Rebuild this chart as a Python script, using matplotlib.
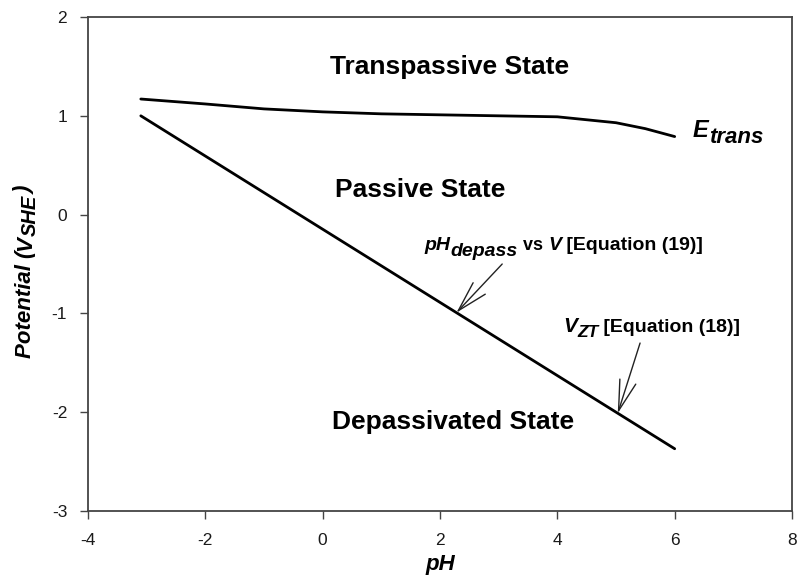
import numpy as np
import matplotlib
matplotlib.use("Agg")
import matplotlib.pyplot as plt

plt.rcParams["font.family"] = ["Liberation Sans", "DejaVu Sans"]
plt.rcParams["axes.unicode_minus"] = False

# Transpassivation potential vs pH
ph_trans = [-3.1, -2, -1, 0, 1, 2, 3, 4, 4.5, 5, 5.5, 6]
e_trans = [1.17, 1.12, 1.07, 1.04, 1.02, 1.01, 1.00, 0.99, 0.96, 0.93, 0.87, 0.79]

# Depassivation line (V_ZT)
ph_depass = [-3.1, 6.0]
v_depass = [1.0, -2.37]

# Arrow targets on the depassivation line
ph_arrow_19 = 2.28
ph_arrow_18 = 5.03

xticks = [-4, -2, 0, 2, 4, 6, 8]
yticks = [-3, -2, -1, 0, 1, 2]

fig = plt.figure(figsize=(7.98, 5.81), dpi=100)
ax = fig.add_axes([0.1103, 0.1205, 0.8822, 0.8502])
renderer = fig.canvas.get_renderer()


def chain_text(x0, y0, parts, vertical=False):
    """Write pieces of text one after another, starting at pixel (x0, y0).
    Each part is (string, fontsize, italic, baseline drop in pixels)."""
    for s, size, italic, drop in parts:
        if vertical:
            pos = (x0 + drop, y0)
        else:
            pos = (x0, y0 - drop)
        t = fig.text(pos[0], pos[1], s, transform=None, fontsize=size,
                     fontweight="bold", fontstyle="italic" if italic else "normal",
                     ha="left", va="baseline", rotation=90 if vertical else 0,
                     rotation_mode="anchor")
        bb = t.get_window_extent(renderer)
        if vertical:
            y0 = bb.y1
        else:
            x0 = bb.x1


def data_px(x, y):
    return ax.transData.transform((x, y))


ax.plot(ph_trans, e_trans, color="black", lw=2.0, solid_capstyle="round")
ax.plot(ph_depass, v_depass, color="black", lw=2.0, solid_capstyle="round")

ax.set_xlim(-4, 8)
ax.set_ylim(-3, 2)
ax.set_xticks(xticks)
ax.set_yticks(yticks)
ax.tick_params(direction="out", length=6, width=1.0, color="#444444",
               labelsize=12.5, labelcolor="#1a1a1a")
ax.tick_params(axis="x", pad=10)
ax.tick_params(axis="y", pad=9)
for sp in ax.spines.values():
    sp.set_color("#444444")
    sp.set_linewidth(1.3)

ax.set_xlabel("pH", fontsize=16, fontweight="bold", fontstyle="italic", labelpad=4)

# y-axis label: Potential (V_SHE), built piecewise so the subscript stays large
chain_text(31, 581 - 358, [("Potential (", 16, True, 0), ("V", 16, True, 0),
                           ("SHE", 14.5, True, 5), (")", 16, True, 0)],
           vertical=True)

region_kw = dict(fontsize=19, fontweight="bold", ha="center", va="center")
ax.text(2.17, 1.49, "Transpassive State", **region_kw)
ax.text(1.66, 0.25, "Passive State", **region_kw)
ax.text(2.22, -2.10, "Depassivated State", **region_kw)

chain_text(*data_px(6.31, 0.785), [("E", 17, True, 0), ("trans", 16, True, 6)])

arrow_kw = dict(arrowstyle="->,head_length=1.1,head_width=0.3", color="#222222",
                lw=1.0, shrinkA=0, shrinkB=0, mutation_scale=20)

tip19 = (ph_arrow_19, np.interp(ph_arrow_19, ph_depass, v_depass))
ax.annotate("", xy=tip19, xytext=(3.06, -0.50), arrowprops=arrow_kw)
chain_text(*data_px(1.74, -0.36), [("pH", 14, True, 0), ("depass", 14, True, 6),
                                   (" vs ", 13, False, 0), ("V", 14, True, 0),
                                   (" [Equation (19)]", 14, False, 0)])

tip18 = (ph_arrow_18, np.interp(ph_arrow_18, ph_depass, v_depass))
ax.annotate("", xy=tip18, xytext=(5.41, -1.30), arrowprops=arrow_kw)
chain_text(*data_px(4.10, -1.19), [("V", 15, True, 0), ("ZT", 12.5, True, 5),
                                   (" [Equation (18)]", 14, False, 0)])

fig.savefig("out.png", dpi=100)
